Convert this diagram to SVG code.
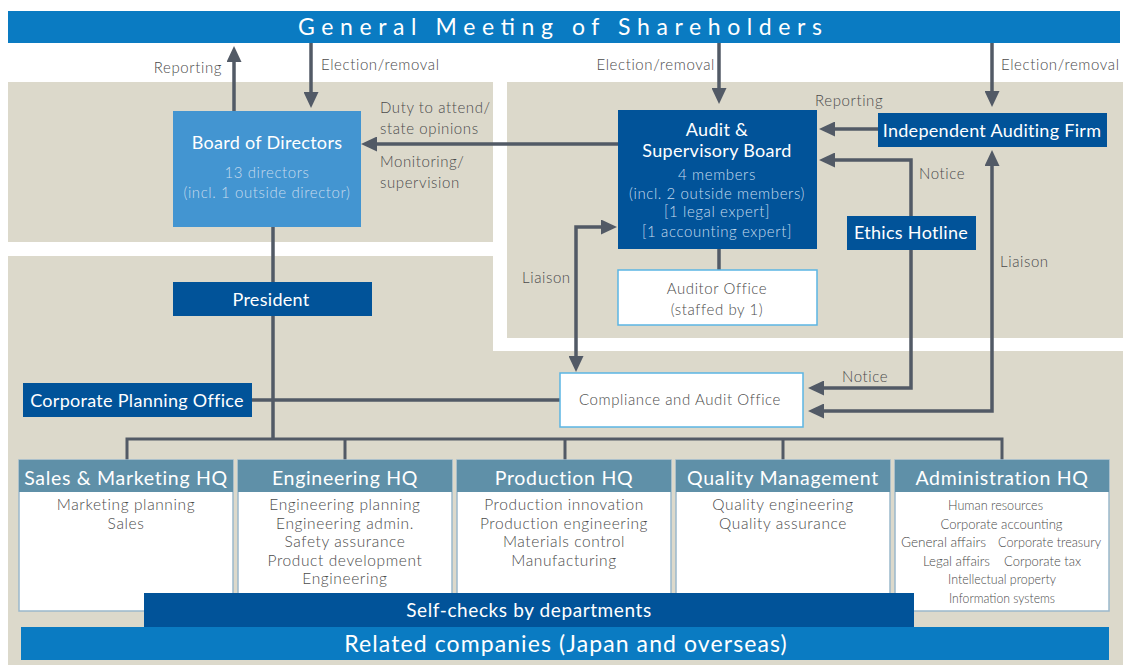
<svg xmlns="http://www.w3.org/2000/svg" width="1123" height="666" viewBox="0 0 1123 666">
  <style>
    text { font-family: Lato, "Open Sans", "Liberation Sans", sans-serif; }
    .lbl { font-size: 15px; fill: #4b4b4b; font-weight: 300; letter-spacing: 0.6px; }
    .sub { fill: #c6dbee; font-size: 15px; font-weight: 300; letter-spacing: 0.6px; }
    .ttl { font-size: 18px; fill: #ffffff; letter-spacing: 0.3px; }
    .hq { font-size: 19.5px; fill: #ffffff; letter-spacing: 0.7px; }
    .item { font-size: 15.5px; fill: #4b4b4b; font-weight: 300; letter-spacing: 0.6px; }
    .adm { font-size: 14px; fill: #4b4b4b; font-weight: 300; }
    .panel { fill: #dcd9cb; }
    .dark { fill: #015399; }
    .bright { fill: #0a7bc2; }
    .wbox { fill: #ffffff; stroke: #5bb5e3; stroke-width: 1.5; }
    .hqbody { fill: #ffffff; stroke: #9ab8cb; stroke-width: 1.5; }
    .hqhead { fill: #5f90a8; }
    .conn path { fill: none; stroke: #525a66; stroke-width: 3.5; }
    .conn path.thin { stroke-width: 3; }
  </style>
  <defs>
    <marker id="arr" markerUnits="userSpaceOnUse" markerWidth="16" markerHeight="15" refX="6" refY="7.5" orient="auto-start-reverse" viewBox="0 0 16 15">
      <path d="M0,0 L16,7.5 L0,15 Z" fill="#525a66"/>
    </marker>
  </defs>

  <rect width="1123" height="666" fill="#ffffff"/>

  <!-- background panels -->
  <g id="panels">
    <rect class="panel" x="8" y="82" width="485" height="160"/>
    <rect class="panel" x="507" y="82" width="616" height="256"/>
    <polygon class="panel" points="8,256 493,256 493,351 1123,351 1123,665 8,665"/>
  </g>

  <!-- General Meeting of Shareholders -->
  <g id="gms">
    <rect class="bright" x="8" y="11" width="1112" height="32"/>
    <text x="298" y="35" font-size="23" fill="#ffffff" textLength="524" lengthAdjust="spacing">General Meeting of Shareholders</text>
  </g>

  <!-- connectors -->
  <g class="conn" id="connectors">
    <path d="M234,111 V56" marker-end="url(#arr)"/>
    <path d="M311,43 V98" marker-end="url(#arr)"/>
    <path d="M719,43 V94" marker-end="url(#arr)"/>
    <path d="M992,43 V97" marker-end="url(#arr)"/>
    <path d="M618,144 H371" marker-end="url(#arr)"/>
    <path d="M878,129 H829" marker-end="url(#arr)"/>
    <path d="M911,216 V160 H829" marker-end="url(#arr)"/>
    <path d="M911,250 V388 H818" marker-end="url(#arr)"/>
    <path d="M992,160 V411 H818" marker-start="url(#arr)" marker-end="url(#arr)"/>
    <path d="M607,227 H576 V362" marker-start="url(#arr)" marker-end="url(#arr)"/>
    <path d="M719,249 V270"/>
    <path d="M273,227 V439"/>
    <path d="M252,400 H560"/>
    <path class="thin" d="M127,461 V439 H1002 V461 M345,439 V461 M565,439 V461 M783,439 V461"/>
  </g>

  <!-- connector labels -->
  <g id="labels">
    <text class="lbl" x="222" y="73" text-anchor="end">Reporting</text>
    <text class="lbl" x="321" y="70">Election/removal</text>
    <text class="lbl" x="715" y="70" text-anchor="end">Election/removal</text>
    <text class="lbl" x="1001" y="70">Election/removal</text>
    <text class="lbl" x="380" y="113">Duty to attend/</text>
    <text class="lbl" x="380" y="134">state opinions</text>
    <text class="lbl" x="380" y="167">Monitoring/</text>
    <text class="lbl" x="380" y="188">supervision</text>
    <text class="lbl" x="815" y="106">Reporting</text>
    <text class="lbl" x="919" y="179">Notice</text>
    <text class="lbl" x="522" y="283">Liaison</text>
    <text class="lbl" x="1000" y="267">Liaison</text>
    <text class="lbl" x="842" y="382">Notice</text>
  </g>

  <g id="board">
    <rect x="173" y="111" width="188" height="116" fill="#4395d1"/>
    <text class="ttl" x="267" y="149" text-anchor="middle">Board of Directors</text>
    <text class="sub" x="267" y="178" text-anchor="middle">13 directors</text>
    <text class="sub" x="267" y="198" text-anchor="middle">(incl. 1 outside director)</text>
  </g>

  <g id="audit-board">
    <rect class="dark" x="618" y="110" width="199" height="139"/>
    <text class="ttl" x="717" y="136" text-anchor="middle">Audit &amp;</text>
    <text class="ttl" x="717" y="157" text-anchor="middle">Supervisory Board</text>
    <text class="sub" x="717" y="180" text-anchor="middle">4 members</text>
    <text class="sub" x="717" y="199" text-anchor="middle">(incl. 2 outside members)</text>
    <text class="sub" x="717" y="217" text-anchor="middle">[1 legal expert]</text>
    <text class="sub" x="717" y="237" text-anchor="middle">[1 accounting expert]</text>
  </g>

  <g id="auditing-firm">
    <rect class="dark" x="878" y="113" width="229" height="34"/>
    <text class="ttl" x="992" y="137" text-anchor="middle">Independent Auditing Firm</text>
  </g>

  <g id="ethics-hotline">
    <rect class="dark" x="847" y="216" width="129" height="34"/>
    <text class="ttl" x="911" y="239" text-anchor="middle">Ethics Hotline</text>
  </g>

  <g id="auditor-office">
    <rect class="wbox" x="618" y="270" width="199" height="55"/>
    <text class="lbl" x="717" y="294" text-anchor="middle">Auditor Office</text>
    <text class="lbl" x="717" y="315" text-anchor="middle">(staffed by 1)</text>
  </g>

  <g id="president">
    <rect class="dark" x="173" y="282" width="199" height="34"/>
    <text class="ttl" x="271" y="306" text-anchor="middle" font-size="17">President</text>
  </g>

  <g id="corporate-planning">
    <rect class="dark" x="23" y="383" width="229" height="34"/>
    <text class="ttl" x="137" y="407" text-anchor="middle">Corporate Planning Office</text>
  </g>

  <g id="compliance">
    <rect class="wbox" x="560" y="373" width="243" height="54"/>
    <text class="lbl" x="680" y="405" text-anchor="middle" font-size="15.5">Compliance and Audit Office</text>
  </g>

  <g id="sales-hq">
    <rect class="hqbody" x="19" y="460" width="214" height="151"/>
    <rect class="hqhead" x="19" y="460" width="214" height="32"/>
    <text class="hq" x="126" y="485" text-anchor="middle">Sales &amp; Marketing HQ</text>
    <text class="item" x="126" y="510" text-anchor="middle">Marketing planning</text>
    <text class="item" x="126" y="528.5" text-anchor="middle">Sales</text>
  </g>

  <g id="engineering-hq">
    <rect class="hqbody" x="238" y="460" width="214" height="151"/>
    <rect class="hqhead" x="238" y="460" width="214" height="32"/>
    <text class="hq" x="345" y="485" text-anchor="middle">Engineering HQ</text>
    <text class="item" x="345" y="510" text-anchor="middle">Engineering planning</text>
    <text class="item" x="345" y="528.5" text-anchor="middle">Engineering admin.</text>
    <text class="item" x="345" y="547" text-anchor="middle">Safety assurance</text>
    <text class="item" x="345" y="565.5" text-anchor="middle">Product development</text>
    <text class="item" x="345" y="584" text-anchor="middle">Engineering</text>
  </g>

  <g id="production-hq">
    <rect class="hqbody" x="457" y="460" width="214" height="151"/>
    <rect class="hqhead" x="457" y="460" width="214" height="32"/>
    <text class="hq" x="564" y="485" text-anchor="middle">Production HQ</text>
    <text class="item" x="564" y="510" text-anchor="middle">Production innovation</text>
    <text class="item" x="564" y="528.5" text-anchor="middle">Production engineering</text>
    <text class="item" x="564" y="547" text-anchor="middle">Materials control</text>
    <text class="item" x="564" y="565.5" text-anchor="middle">Manufacturing</text>
  </g>

  <g id="quality-management">
    <rect class="hqbody" x="676" y="460" width="214" height="151"/>
    <rect class="hqhead" x="676" y="460" width="214" height="32"/>
    <text class="hq" x="783" y="485" text-anchor="middle">Quality Management</text>
    <text class="item" x="783" y="510" text-anchor="middle">Quality engineering</text>
    <text class="item" x="783" y="528.5" text-anchor="middle">Quality assurance</text>
  </g>

  <g id="administration-hq">
    <rect class="hqbody" x="895" y="460" width="214" height="151"/>
    <rect class="hqhead" x="895" y="460" width="214" height="32"/>
    <text class="hq" x="1002" y="485" text-anchor="middle">Administration HQ</text>
    <text class="adm" x="995.5" y="510" text-anchor="middle" textLength="95" lengthAdjust="spacingAndGlyphs">Human resources</text>
    <text class="adm" x="1001.5" y="529" text-anchor="middle" textLength="122" lengthAdjust="spacingAndGlyphs">Corporate accounting</text>
    <text class="adm" x="901" y="547" textLength="85" lengthAdjust="spacingAndGlyphs">General affairs</text>
    <text class="adm" x="998" y="547" textLength="103" lengthAdjust="spacingAndGlyphs">Corporate treasury</text>
    <text class="adm" x="923" y="566" textLength="67" lengthAdjust="spacingAndGlyphs">Legal affairs</text>
    <text class="adm" x="1004" y="566" textLength="77" lengthAdjust="spacingAndGlyphs">Corporate tax</text>
    <text class="adm" x="948" y="584" textLength="108" lengthAdjust="spacingAndGlyphs">Intellectual property</text>
    <text class="adm" x="949" y="603" textLength="106" lengthAdjust="spacingAndGlyphs">Information systems</text>
  </g>

  <g id="self-checks">
    <rect class="dark" x="144" y="593" width="770" height="34"/>
    <text x="529" y="617" text-anchor="middle" font-size="19" fill="#ffffff" letter-spacing="0.6">Self-checks by departments</text>
  </g>

  <g id="related-companies">
    <rect class="bright" x="21" y="627" width="1088" height="33"/>
    <text x="566" y="652" text-anchor="middle" font-size="23" fill="#ffffff" letter-spacing="1.1">Related companies (Japan and overseas)</text>
  </g>
</svg>
